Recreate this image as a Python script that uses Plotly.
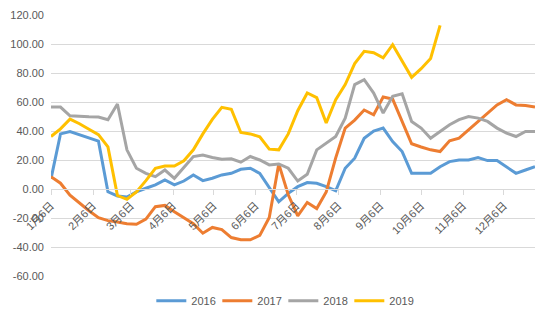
import datetime as dt
import plotly.graph_objects as go

# Weekly observations, first week starting 6 January
start = dt.date(2019, 1, 6)
n_weeks = 52
weeks = [start + dt.timedelta(days=7 * i) for i in range(n_weeks)]

series_names = ["2016", "2017", "2018", "2019"]
series_colors = ["#5B9BD5", "#ED7D31", "#A5A5A5", "#FFC000"]

values_2016 = [7, 38, 39.6, 37.4, 35.3, 33, -1.9, -4.8, -5.5, -2, 0.5, 2.8, 6.2,
               2.8, 5.5, 9.7, 5.8, 7.4, 9.7, 10.8, 13.6, 14.3, 10.8, 1.2, -8.8,
               -3, 1.6, 4.4, 3.9, 1.6, -1.2, 14.3, 21.2, 35, 40, 42, 32.7, 25.8,
               10.8, 10.8, 10.8, 15.4, 18.9, 20, 20, 21.7, 19.6, 19.6, 15.4, 10.8,
               13.1, 15.4]
values_2017 = [8.5, 4, -4.2, -9.7, -15, -19.8, -21.8, -22.8, -24, -24.3, -20.8,
               -12.2, -11.3, -15.7, -20, -24, -30.5, -26.5, -28, -33.5, -35, -35,
               -32, -19.7, 17.3, -4, -18.5, -9.3, -13.5, -2, 21.5, 42, 47.5, 54.5,
               51.2, 63.5, 62, 46.6, 31.2, 29, 27, 25.8, 33.2, 35, 40.8, 46.2, 51.8,
               58, 61.6, 58, 57.6, 56.5]
values_2018 = [56.5, 56.5, 50.5, 50, 49.8, 49.6, 47.8, 58.6, 27, 14.3, 10.8, 8.5,
               13.1, 7.4, 15, 22.4, 23.5, 21.7, 20.5, 20.8, 18.5, 22.4, 20, 16.6,
               17.3, 14.3, 5.5, 10.2, 27, 31.6, 36.2, 48.9, 72, 75.4, 66.2, 52.4,
               63.9, 65.7, 46.6, 42, 35, 39.7, 44.3, 47.8, 50, 48.9, 46.6, 42, 38.5,
               36.2, 39.7, 39.7]
values_2019 = [36.2, 41.5, 48.2, 45, 41.2, 37.5, 29, -4.5, -7.1, -2, 5.8, 14.3,
               15.9, 15.9, 19.5, 27, 38, 48, 56.3, 55, 39, 38, 36, 27.5, 27, 38, 54,
               66.2, 63, 45.5, 61.6, 72, 86.5, 95, 94, 90.5, 99.5, 88, 77, 83, 90,
               112.8]

all_values = [values_2016, values_2017, values_2018, values_2019]

y_ticks = [-60, -40, -20, 0, 20, 40, 60, 80, 100, 120]
y_tick_text = [f"{v:.2f}" for v in y_ticks]

font_family = "Liberation Sans, Arial, Noto Sans CJK SC, sans-serif"
text_color = "#595959"
grid_color = "#D9D9D9"

fig = go.Figure()
for name, color, vals in zip(series_names, series_colors, all_values):
    fig.add_trace(go.Scatter(
        x=weeks[:len(vals)], y=vals, name=name, mode="lines",
        line=dict(color=color, width=3),
    ))

y_min, y_max = y_ticks[0], y_ticks[-1]

fig.update_layout(
    width=550, height=321,
    margin=dict(l=51, r=15, t=15, b=45, autoexpand=False),
    paper_bgcolor="white", plot_bgcolor="white",
    font=dict(family=font_family, size=11, color=text_color),
    showlegend=True,
    legend=dict(orientation="h", x=0.48, xanchor="center", y=-0.095,
                yanchor="middle", itemwidth=30, entrywidth=21,
                entrywidthmode="pixels", tracegroupgap=0,
                font=dict(size=11, color=text_color)),
    xaxis=dict(
        type="date",
        range=[weeks[0], weeks[-1]],
        tick0=weeks[0], dtick="M1", tickformat="%-m月%-d日",
        tickangle=-45, ticks="outside", ticklen=5, tickcolor=grid_color,
        showgrid=False, showline=True, linecolor=grid_color, linewidth=1,
        anchor="free", position=(0 - y_min) / (y_max - y_min),
        zeroline=False,
    ),
    yaxis=dict(
        range=[y_min, y_max], tickvals=y_ticks, ticktext=y_tick_text,
        showgrid=True, gridcolor=grid_color, gridwidth=1,
        zeroline=False, showline=False, ticks="", ticklabelstandoff=6,
    ),
)

fig.write_html("out.html")
